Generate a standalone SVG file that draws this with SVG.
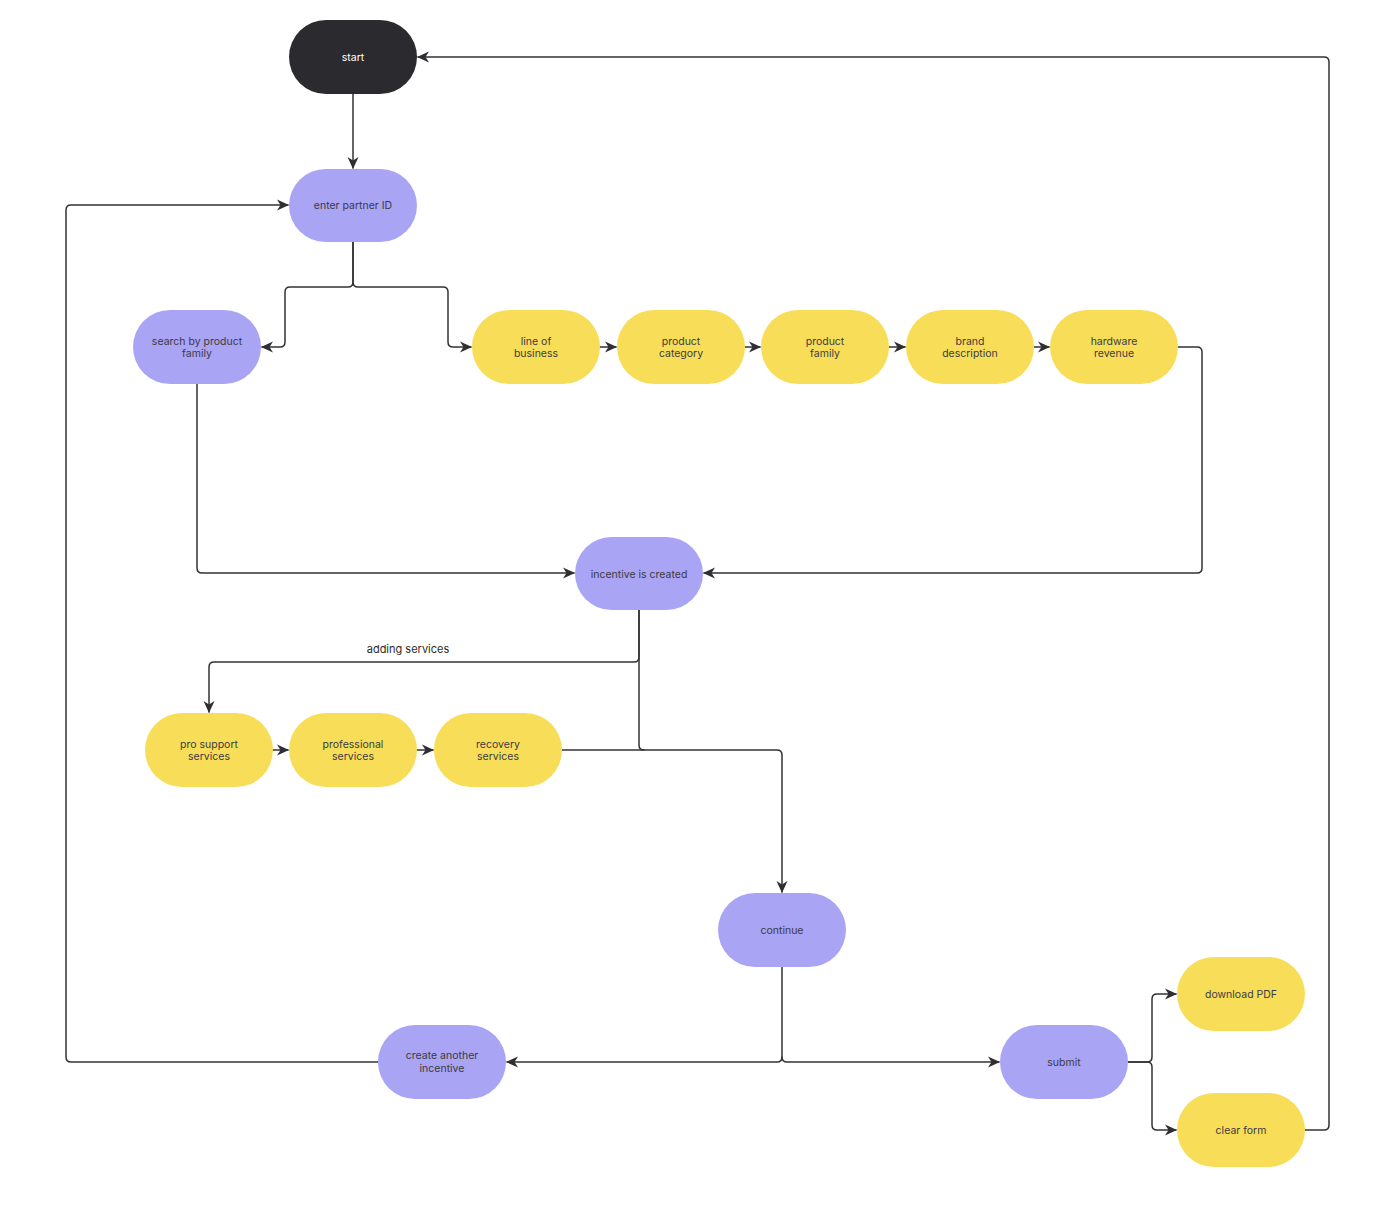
<svg xmlns="http://www.w3.org/2000/svg" width="1394" height="1228" viewBox="0 0 1394 1228">
<defs>
<marker id="ah" viewBox="0 0 12 12" refX="11" refY="6" markerWidth="12" markerHeight="12" markerUnits="userSpaceOnUse" orient="auto">
<path d="M0,0.5 L12,6 L0,11.5 L3.5,6 Z" fill="#2f2f33"/>
</marker>
<style>
.bg{fill:#ffffff}
.n{stroke:none}
.dark{fill:#2b2a2f}
.pur{fill:#aaa4f5}
.yel{fill:#f8de58}
.t{font-family:Inter,"Noto Sans","Liberation Sans",sans-serif;font-size:10.5px;text-anchor:middle;fill:#3b3a40}
.tw{fill:#ffffff}
.c{fill:none;stroke:#333336;stroke-width:1.5;stroke-linejoin:round;stroke-linecap:round}
.a{marker-end:url(#ah)}
.lbl{font-family:Inter,"Noto Sans","Liberation Sans",sans-serif;font-size:11px;text-anchor:middle;fill:#2b2b2b}
</style>
</defs>
<rect class="bg" x="0" y="0" width="1394" height="1228"/>
<g id="connectors">
<path class="c a" d="M353,94 V168"/>
<path class="c a" d="M1305,1130 H1324 Q1329,1130 1329,1125 V62 Q1329,57 1324,57 H418"/>
<path class="c a" d="M353,242 V282 Q353,287 348,287 H290 Q285,287 285,292 V342 Q285,347 280,347 H262"/>
<path class="c a" d="M353,242 V282 Q353,287 358,287 H443 Q448,287 448,292 V342 Q448,347 453,347 H471"/>
<path class="c a" d="M600,347 H616"/>
<path class="c a" d="M745,347 H760"/>
<path class="c a" d="M889,347 H905"/>
<path class="c a" d="M1034,347 H1049"/>
<path class="c a" d="M1178,347 H1197 Q1202,347 1202,352 V568 Q1202,573 1197,573 H704"/>
<path class="c a" d="M197,384 V568 Q197,573 202,573 H574"/>
<path class="c a" d="M639,610 V657 Q639,662 634,662 H214 Q209,662 209,667 V712"/>
<path class="c a" d="M273,750 H288"/>
<path class="c a" d="M417,750 H433"/>
<path class="c a" d="M639,610 V745 Q639,750 644,750 H777 Q782,750 782,755 V892"/>
<path class="c" d="M562,750 H644"/>
<path class="c a" d="M782,967 V1057 Q782,1062 777,1062 H507"/>
<path class="c a" d="M782,1057 Q782,1062 787,1062 H999"/>
<path class="c a" d="M1128,1062 H1147 Q1152,1062 1152,1057 V999 Q1152,994 1157,994 H1176"/>
<path class="c a" d="M1128,1062 H1147 Q1152,1062 1152,1067 V1125 Q1152,1130 1157,1130 H1176"/>
<path class="c a" d="M378,1062 H71 Q66,1062 66,1057 V210 Q66,205 71,205 H288"/>
<text class="lbl" x="408" y="653">adding services</text>
</g>
<g id="start"><rect class="n dark" x="289" y="20" width="128" height="74" rx="37"/><text class="t tw" x="353" y="61">start</text></g>
<g id="enter-partner-id"><rect class="n pur" x="289" y="169" width="128" height="73" rx="36.5"/><text class="t" x="353" y="209">enter partner ID</text></g>
<g id="search-by-product-family"><rect class="n pur" x="133" y="310" width="128" height="74" rx="37"/><text class="t" x="197" y="345">search by product</text><text class="t" x="197" y="357">family</text></g>
<g id="line-of-business"><rect class="n yel" x="472" y="310" width="128" height="74" rx="37"/><text class="t" x="536" y="345">line of</text><text class="t" x="536" y="357">business</text></g>
<g id="product-category"><rect class="n yel" x="617" y="310" width="128" height="74" rx="37"/><text class="t" x="681" y="345">product</text><text class="t" x="681" y="357">category</text></g>
<g id="product-family"><rect class="n yel" x="761" y="310" width="128" height="74" rx="37"/><text class="t" x="825" y="345">product</text><text class="t" x="825" y="357">family</text></g>
<g id="brand-description"><rect class="n yel" x="906" y="310" width="128" height="74" rx="37"/><text class="t" x="970" y="345">brand</text><text class="t" x="970" y="357">description</text></g>
<g id="hardware-revenue"><rect class="n yel" x="1050" y="310" width="128" height="74" rx="37"/><text class="t" x="1114" y="345">hardware</text><text class="t" x="1114" y="357">revenue</text></g>
<g id="incentive-is-created"><rect class="n pur" x="575" y="537" width="128" height="73" rx="36.5"/><text class="t" x="639" y="578">incentive is created</text></g>
<g id="pro-support-services"><rect class="n yel" x="145" y="713" width="128" height="74" rx="37"/><text class="t" x="209" y="748">pro support</text><text class="t" x="209" y="760">services</text></g>
<g id="professional-services"><rect class="n yel" x="289" y="713" width="128" height="74" rx="37"/><text class="t" x="353" y="748">professional</text><text class="t" x="353" y="760">services</text></g>
<g id="recovery-services"><rect class="n yel" x="434" y="713" width="128" height="74" rx="37"/><text class="t" x="498" y="748">recovery</text><text class="t" x="498" y="760">services</text></g>
<g id="continue"><rect class="n pur" x="718" y="893" width="128" height="74" rx="37"/><text class="t" x="782" y="934">continue</text></g>
<g id="create-another-incentive"><rect class="n pur" x="378" y="1025" width="128" height="74" rx="37"/><text class="t" x="442" y="1059">create another</text><text class="t" x="442" y="1072">incentive</text></g>
<g id="submit"><rect class="n pur" x="1000" y="1025" width="128" height="74" rx="37"/><text class="t" x="1064" y="1066">submit</text></g>
<g id="download-pdf"><rect class="n yel" x="1177" y="957" width="128" height="74" rx="37"/><text class="t" x="1241" y="998">download PDF</text></g>
<g id="clear-form"><rect class="n yel" x="1177" y="1093" width="128" height="74" rx="37"/><text class="t" x="1241" y="1134">clear form</text></g>
</svg>
